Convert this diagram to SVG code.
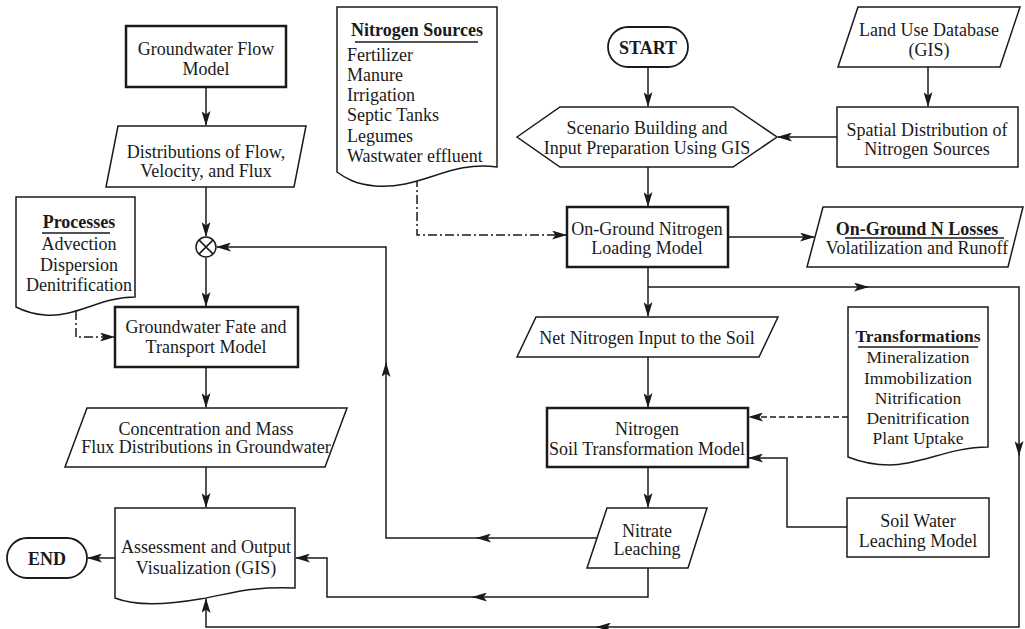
<svg xmlns="http://www.w3.org/2000/svg" width="1025" height="629" viewBox="0 0 1025 629">
<defs>
<style>
text{font-family:"Liberation Serif","Times New Roman",serif;font-size:18px;fill:#1a1a1a;text-anchor:middle}
.b{font-weight:bold}
.l{text-anchor:start}
.s{font-size:17.5px}
.box{fill:#fff;stroke:#1a1a1a;stroke-width:1.5}
.pill{fill:#fff;stroke:#1a1a1a;stroke-width:1.8}
.thick{fill:#fff;stroke:#1a1a1a;stroke-width:2.5}
.ln{fill:none;stroke:#1a1a1a;stroke-width:1.5}
.dd{fill:none;stroke:#1a1a1a;stroke-width:1.5;stroke-dasharray:9,3,2,3}
.ds{fill:none;stroke:#1a1a1a;stroke-width:1.5;stroke-dasharray:6,3}
.a{marker-end:url(#ah)}
</style>
<marker id="ah" viewBox="0 0 15 9" refX="14" refY="4.5" markerWidth="15" markerHeight="9" markerUnits="userSpaceOnUse" orient="auto">
<path d="M0,0 L15,4.5 L0,9 L3.5,4.5 Z" fill="#1a1a1a"/>
</marker>
</defs>

<g id="connectors">
<path class="ln a" d="M206,87 L206,125"/>
<path class="ln a" d="M206,187 L206,236"/>
<path class="ln a" d="M206,258 L206,306"/>
<path class="ln a" d="M597,538 L477,538"/>
<path class="ln a" d="M479,538 L386,538 L386,363"/>
<path class="ln a" d="M386,365 L386,247 L217,247"/>
<path class="ln a" d="M206,367 L206,407"/>
<path class="ln a" d="M206,467 L206,507"/>
<path class="ln a" d="M115,558 L88,558"/>
<path class="dd a" d="M76,311 L76,337 L114,337"/>
<path class="ln a" d="M648,67 L648,106"/>
<path class="ln a" d="M928,67 L928,106"/>
<path class="ln a" d="M837,137 L778,137"/>
<path class="ln a" d="M648,167 L648,206"/>
<path class="dd a" d="M417,178 L417,235 L566,235"/>
<path class="ln a" d="M728,237 L814,237"/>
<path class="ln a" d="M648,267 L648,316"/>
<path class="ln a" d="M648,287 L868,287"/>
<path class="ln a" d="M866,287 L1019,287 L1019,455"/>
<path class="ln a" d="M1019,453 L1019,627 L597,627"/>
<path class="ln a" d="M599,627 L206,627 L206,599"/>
<path class="ln a" d="M648,357 L648,407"/>
<path class="ln a" d="M648,467 L648,507"/>
<path class="ln a" d="M648,568 L648,597 L473,597"/>
<path class="ln a" d="M475,597 L327,597 L327,558 L296,558"/>
<path class="ds a" d="M848,417 L749,417"/>
<path class="ln a" d="M847,527 L787,527 L787,458 L749,458"/>
</g>

<g id="gw-flow-model">
<rect class="thick" x="126" y="26" width="160" height="61"/>
<text x="206" y="55">Groundwater Flow</text>
<text x="206" y="75">Model</text>
</g>

<g id="distributions">
<path class="box" d="M118,126 L306,126 L294,187 L106,187 Z"/>
<text x="206" y="158">Distributions of Flow,</text>
<text x="206" y="177">Velocity, and Flux</text>
</g>

<g id="junction">
<circle class="box" cx="206" cy="247" r="10"/>
<path class="ln" d="M198.9,239.9 L213.1,254.1 M213.1,239.9 L198.9,254.1"/>
</g>

<g id="processes">
<path class="box" d="M16,197 L135,197 L135,297 C100,297 75,318 45,315 C30,314 22,310 16,307 Z"/>
<text class="b" x="79" y="228">Processes</text>
<line class="ln" x1="42" y1="233" x2="110" y2="233"/>
<text x="79" y="250">Advection</text>
<text x="79" y="271">Dispersion</text>
<text x="79" y="291">Denitrification</text>
</g>

<g id="gw-fate">
<rect class="thick" x="115" y="307" width="183" height="60"/>
<text x="206" y="333">Groundwater Fate and</text>
<text x="206" y="353">Transport Model</text>
</g>

<g id="concentration">
<path class="box" d="M87,408 L347,408 L325,467 L65,467 Z"/>
<text x="206" y="435">Concentration and Mass</text>
<text x="206" y="453">Flux Distributions in Groundwater</text>
</g>

<g id="assessment">
<path class="box" d="M115,508 L295,508 L295,588 C250,586 230,594 200,599 C165,605 135,606 115,598 Z"/>
<text x="206" y="553">Assessment and Output</text>
<text x="206" y="574">Visualization (GIS)</text>
</g>

<g id="end">
<rect class="pill" x="7" y="538" width="80" height="40" rx="20"/>
<text class="b" x="47" y="565">END</text>
</g>

<g id="nitrogen-sources">
<path class="box" d="M337,7 L497,7 L497,167 C450,160 420,190 375,186 C355,184 345,178 337,172 Z"/>
<text class="b" x="417" y="36">Nitrogen Sources</text>
<line class="ln" x1="355" y1="42" x2="478" y2="42"/>
<text class="l" x="347" y="61">Fertilizer</text>
<text class="l" x="347" y="81">Manure</text>
<text class="l" x="347" y="101">Irrigation</text>
<text class="l" x="347" y="121">Septic Tanks</text>
<text class="l" x="347" y="142">Legumes</text>
<text class="l" x="347" y="162">Wastwater effluent</text>
</g>

<g id="start">
<rect class="pill" x="608" y="27" width="80" height="40" rx="20"/>
<text class="b" x="648" y="54">START</text>
</g>

<g id="scenario">
<path class="box" d="M517,137 L560,107 L733,107 L777,137 L733,167 L560,167 Z"/>
<text x="647" y="134">Scenario Building and</text>
<text x="647" y="154">Input Preparation Using GIS</text>
</g>

<g id="land-use">
<path class="box" d="M858,7 L1020,7 L1000,67 L838,67 Z"/>
<text x="929" y="36">Land Use Database</text>
<text x="929" y="56">(GIS)</text>
</g>

<g id="spatial">
<rect class="box" x="837" y="107" width="181" height="60"/>
<text x="927" y="136">Spatial Distribution of</text>
<text x="927" y="155">Nitrogen Sources</text>
</g>

<g id="on-ground-loading">
<rect class="thick" x="567" y="207" width="161" height="60"/>
<text x="647" y="235">On-Ground Nitrogen</text>
<text x="647" y="254">Loading Model</text>
</g>

<g id="on-ground-losses">
<path class="box" d="M823,207 L1023,207 L1008,267 L807,267 Z"/>
<text class="b" x="917" y="235">On-Ground N Losses</text>
<line class="ln" x1="845" y1="238" x2="1004" y2="238"/>
<text x="917" y="254">Volatilization and Runoff</text>
</g>

<g id="net-input">
<path class="box" d="M536,317 L778,317 L759,357 L517,357 Z"/>
<text x="647" y="344">Net Nitrogen Input to the Soil</text>
</g>

<g id="soil-transformation">
<rect class="thick" x="547" y="408" width="201" height="59"/>
<text x="647" y="435">Nitrogen</text>
<text x="647" y="455">Soil Transformation Model</text>
</g>

<g id="transformations">
<path class="box" d="M848,307 L988,307 L988,447 C950,447 920,465 890,465 C870,465 858,461 848,457 Z"/>
<text class="b s" x="918" y="342">Transformations</text>
<line class="ln" x1="858" y1="347" x2="978" y2="347"/>
<text class="s" x="918" y="363">Mineralization</text>
<text class="s" x="918" y="384">Immobilization</text>
<text class="s" x="918" y="404">Nitrification</text>
<text class="s" x="918" y="424">Denitrification</text>
<text class="s" x="918" y="444">Plant Uptake</text>
</g>

<g id="nitrate-leaching">
<path class="box" d="M607,508 L707,508 L688,568 L587,568 Z"/>
<text x="647" y="537">Nitrate</text>
<text x="647" y="555">Leaching</text>
</g>

<g id="soil-water">
<rect class="box" x="847" y="498" width="142" height="59"/>
<text x="918" y="527">Soil Water</text>
<text x="918" y="547">Leaching Model</text>
</g>
</svg>
